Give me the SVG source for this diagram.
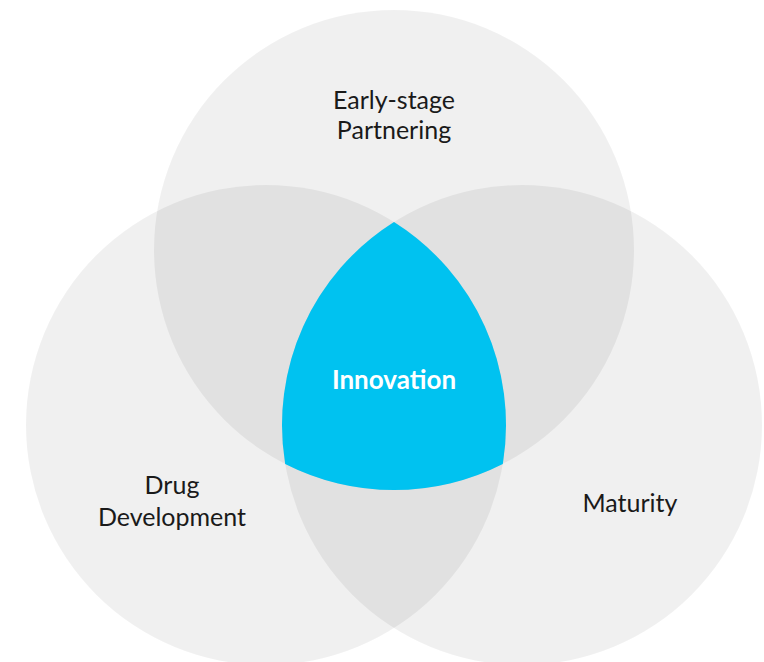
<svg xmlns="http://www.w3.org/2000/svg" width="764" height="662" viewBox="0 0 764 662">
  <style>
    .set { fill: #000000; fill-opacity: 0.059; }
    .core { fill: #00c2f0; }
    .label { font-family: "Lato", "Liberation Sans", sans-serif; font-weight: 400; font-size: 25px; fill: #1a1a1a; text-anchor: middle; }
    .core-label { font-family: "Lato", "Liberation Sans", sans-serif; font-weight: 700; font-size: 26px; fill: #ffffff; text-anchor: middle; }
  </style>
  <rect width="764" height="662" fill="#ffffff"/>

  <g id="early-stage-partnering">
    <circle class="set" cx="394" cy="250" r="240"/>
  </g>
  <g id="drug-development">
    <circle class="set" cx="266" cy="425" r="240"/>
  </g>
  <g id="maturity">
    <circle class="set" cx="522" cy="425" r="240"/>
  </g>

  <!-- common region of all three sets -->
  <g id="innovation">
    <path class="core" d="M394,222 A240,240 0 0,1 502.83,463.91 A240,240 0 0,1 285.17,463.91 A240,240 0 0,1 394,222 Z"/>
    <text class="core-label" x="394" y="389">Innovation</text>
  </g>

  <g id="labels">
    <text class="label" x="394" y="109">Early-stage</text>
    <text class="label" x="394" y="139">Partnering</text>
    <text class="label" x="172" y="494">Drug</text>
    <text class="label" x="172" y="526">Development</text>
    <text class="label" x="630" y="512">Maturity</text>
  </g>

  <g id="connectors"/>
</svg>
